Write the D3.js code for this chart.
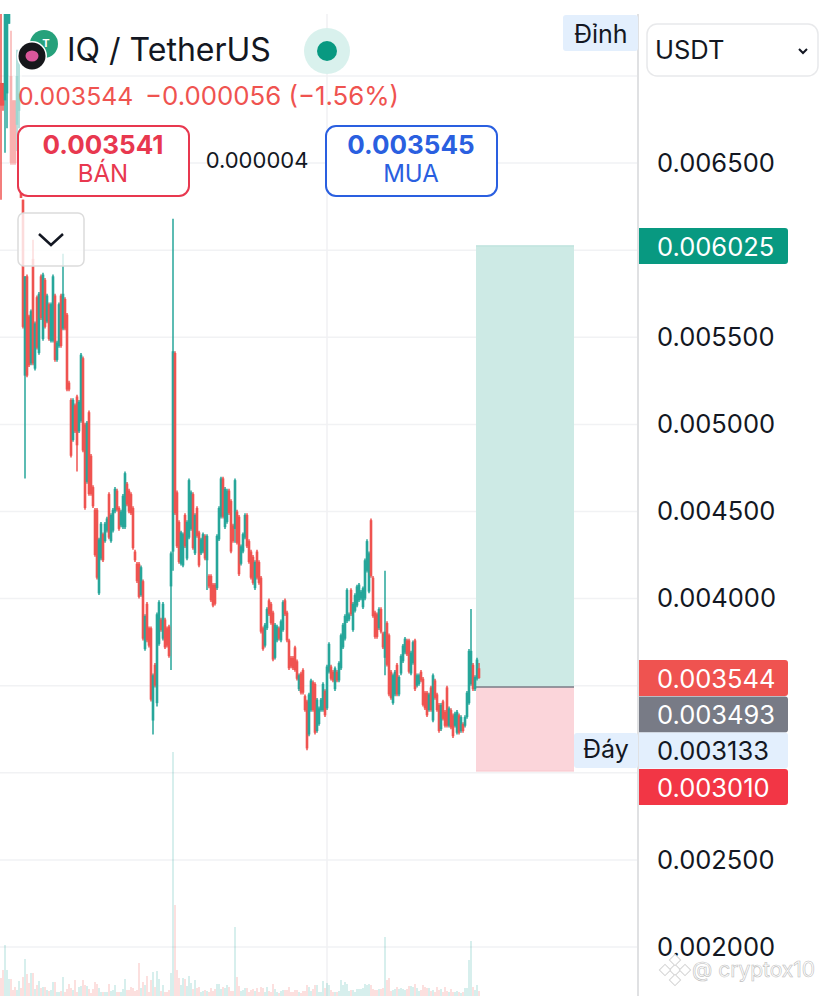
<!DOCTYPE html>
<html>
<head>
<meta charset="utf-8">
<script src="https://cdn.jsdelivr.net/npm/d3@7"></script>
<style>
body { margin: 0; background: #fff; }
svg { display: block; font-family: Inter, "Noto Sans", sans-serif; }
</style>
</head>
<body>
<script>
// prices are in millionths of a USDT, volume in arbitrary units
var opens = [6960,6960,6860,6900,7300,7000,6860,6860,6720,6800,
6400,6290,5280,5850,5620,5350,5950,5320,5730,5410,
5850,5490,5830,5590,5690,5480,5480,5740,5370,5450,
5740,5550,5720,5630,5240,5140,4910,5110,5160,4960,
5020,5380,5000,4670,5070,4820,4640,4510,4510,4030,
4230,4370,4330,4390,4600,4330,4390,4500,4620,4520,
4420,4410,4410,4660,4620,4600,4520,4270,4200,4200,
4020,4100,3710,3970,3830,3830,3300,3620,3400,3740,
3880,3770,3880,3830,3840,4070,4270,5410,4610,4440,
4200,4190,4480,4230,4350,4400,4600,4260,4520,4380,
4260,4270,4360,4220,4130,4130,4080,4080,4060,4340,
4470,4690,4410,4440,4620,4560,4420,4400,4500,4470,
4200,4270,4350,4480,4330,4270,4240,4060,4270,4210,
4120,3830,3730,3830,3990,3970,3920,3660,3760,3830,
3760,3820,3990,3920,3760,3660,3660,3720,3640,3480,
3570,3590,3440,3410,3220,3360,3520,3510,3240,3280,
3360,3360,3470,3370,3580,3610,3580,3480,3580,3530,
3600,3720,3770,3870,3880,4050,3820,3930,3960,3990,
4000,3950,4000,4160,4040,4450,4120,3920,3910,3830,
3940,3800,3660,3860,3790,3580,3400,3450,3620,3450,
3570,3640,3690,3760,3760,3570,3630,3760,3500,3510,
3580,3540,3460,3460,3360,3490,3300,3530,3450,3390,
3250,3410,3350,3490,3270,3360,3330,3270,3230,3330,
3240,3280,3270,3320,3400,3510,3620,3480,3540,3600];
var closes = [6830,6830,7360,7360,7360,6500,6500,6500,7000,6900,
6300,5560,5850,5280,5340,5650,5350,5580,5440,5750,
5610,5860,5560,5740,5490,5690,5850,5370,5470,5690,
5450,5750,5550,5200,5200,4820,5140,4960,4880,5130,
5400,4850,4520,5010,4600,4600,4530,4250,4120,4340,
4430,4220,4430,4460,4350,4480,4510,4630,4510,4400,
4500,4590,4720,4540,4500,4490,4290,4220,4100,4010,
4180,3770,3900,3760,3730,3420,3560,3500,3910,3980,
3820,3970,3720,3730,3670,4260,5420,4490,4300,4210,
4380,4370,4300,4440,4680,4610,4290,4480,4360,4190,
4340,4370,4230,4360,4070,3990,3960,3970,4360,4520,
4690,4470,4630,4620,4490,4270,4330,4680,4320,4140,
4300,4370,4480,4300,4210,4120,4090,4210,4120,4090,
3810,3710,3850,3940,3910,3860,3650,3850,3840,3770,
3870,3980,3910,3760,3600,3610,3600,3590,3540,3560,
3460,3460,3360,3140,3450,3530,3360,3230,3420,3370,
3420,3510,3330,3610,3740,3540,3530,3600,3530,3630,
3790,3850,3900,4050,3910,3910,3970,4020,4070,4080,
4040,4060,4220,4330,4260,4130,3900,3780,3780,3940,
3810,3720,3810,3620,3450,3430,3560,3580,3450,3550,
3670,3730,3770,3680,3580,3690,3750,3480,3560,3560,
3530,3390,3370,3330,3450,3360,3560,3430,3360,3240,
3390,3310,3270,3270,3370,3260,3210,3340,3350,3230,
3320,3240,3320,3460,3700,3700,3480,3550,3650,3544];
var highs = [7360,6960,7360,7360,7360,7260,6860,6860,7150,7150,
6400,6290,5850,5860,5630,5660,6060,5590,5740,5760,
5860,5870,5840,5750,5700,5700,5860,5750,5480,5700,
5750,5980,5730,5640,5250,5150,5150,5120,5170,5140,
5410,5390,5010,5020,5080,4830,4650,4520,4520,4350,
4440,4380,4440,4470,4610,4490,4520,4640,4630,4530,
4510,4600,4730,4670,4630,4610,4530,4280,4210,4210,
4190,4110,3910,3980,3840,3840,3570,3630,3920,3990,
3890,3980,3890,3840,3850,4270,6180,5420,4620,4450,
4390,4380,4490,4450,4690,4620,4610,4490,4530,4390,
4350,4380,4370,4370,4140,4140,4090,4090,4370,4530,
4700,4700,4640,4630,4630,4570,4430,4690,4510,4480,
4310,4380,4490,4490,4340,4280,4250,4220,4280,4220,
4130,3840,3860,3950,4000,3980,3930,3860,3850,3840,
3880,3990,4000,3930,3770,3670,3670,3730,3650,3570,
3580,3600,3450,3420,3460,3540,3530,3520,3430,3380,
3430,3520,3480,3620,3750,3620,3590,3610,3590,3640,
3800,3860,3910,4060,3920,4060,3980,4030,4080,4090,
4050,4070,4230,4340,4270,4460,4130,3930,3920,3950,
3950,3810,4160,3870,3800,3590,3570,3590,3630,3560,
3680,3740,3780,3770,3770,3700,3760,3770,3570,3570,
3590,3550,3470,3470,3460,3500,3570,3540,3460,3400,
3400,3420,3360,3500,3380,3370,3340,3350,3360,3340,
3330,3290,3330,3470,3710,3940,3630,3560,3660,3630];
var lows = [6290,6800,6560,6700,7300,6490,6490,6490,6570,6700,
6300,5550,4690,5270,5330,5340,5340,5310,5430,5400,
5600,5480,5550,5580,5480,5470,5470,5360,5360,5440,
5440,5540,5540,5190,5190,4810,4900,4950,4730,4950,
5010,4840,4510,4660,4590,4590,4520,4240,4110,4020,
4220,4210,4320,4380,4340,4320,4380,4490,4500,4390,
4410,4400,4400,4530,4490,4480,4280,4210,4090,4000,
4010,3760,3700,3750,3720,3410,3220,3490,3380,3730,
3810,3760,3710,3720,3660,3590,4160,4480,4290,4200,
4190,4180,4290,4220,4340,4390,4280,4250,4350,4180,
4250,4260,4220,4050,4060,3980,3950,3960,4050,4330,
4460,4460,4400,4430,4480,4260,4320,4320,4310,4130,
4190,4260,4340,4290,4200,4110,4080,4050,4110,4080,
3800,3700,3720,3820,3900,3850,3640,3650,3750,3760,
3750,3810,3900,3750,3590,3600,3590,3580,3530,3470,
3450,3450,3350,3130,3210,3350,3350,3220,3230,3270,
3350,3350,3320,3360,3570,3530,3520,3470,3520,3520,
3590,3710,3760,3860,3870,3900,3810,3920,3950,3980,
3990,3940,3990,4150,4030,4120,3890,3770,3770,3820,
3800,3710,3560,3610,3440,3420,3390,3440,3440,3440,
3560,3630,3680,3670,3570,3560,3620,3470,3490,3500,
3520,3380,3360,3320,3350,3350,3290,3420,3350,3230,
3240,3300,3260,3260,3260,3250,3200,3260,3220,3220,
3230,3230,3260,3310,3390,3500,3470,3470,3530,3540];
var volumes = [18,26,51,26,17,17,6,9,6,15,
8,19,37,22,13,23,23,7,11,15,
8,9,9,6,5,6,14,14,4,4,
5,19,4,7,12,8,6,16,4,9,
10,16,11,10,7,3,7,14,12,8,
4,4,4,4,12,5,6,11,4,4,
4,7,17,6,6,9,8,5,6,33,
8,14,11,20,4,16,24,9,25,17,
5,11,4,4,6,23,244,91,26,18,
11,18,17,10,20,13,7,16,8,9,
4,5,6,5,4,8,5,7,12,12,
7,9,8,11,9,5,5,69,19,10,
5,6,8,8,4,6,7,5,8,4,
9,8,4,9,5,4,12,7,4,3,
5,6,6,6,9,4,4,6,6,4,
3,5,5,11,9,5,7,11,11,4,
4,15,8,13,11,6,4,4,4,5,
16,11,14,12,5,6,6,4,7,7,
7,8,12,11,12,11,7,6,6,7,
7,8,59,16,18,5,6,7,9,7,
8,7,6,7,10,10,9,12,8,5,
6,11,9,8,8,5,6,4,9,6,
7,4,9,5,4,7,4,4,5,4,
3,4,8,8,36,55,9,6,11,5];

var gridPrices = [7000,6500,6000,5500,5000,4500,4000,3500,3000,2500,2000];
var axisLabels = [6500,5500,5000,4500,4000,2500,2000];
var entryPrice = 3493;
var targetPrice = 6025;
var stopPrice = 3010;
var tagPrices = [6025, 3544, 3493, 3133, 3010];
var tagFills = ["#089981", "#ef5350", "#787b86", "#e3effd", "#f23645"];
var tagTexts = ["#fff", "#fff", "#fff", "#131722", "#fff"];

function init() {
    var w = 828;
    var h = 996;
    var green = "#26a69a";
    var red = "#ef5350";
    var tagY = [246, 678, 714.5, 750.5, 787]; // tags are pushed apart, not on their price

    var fmt = function(d) { return (d / 1e6).toFixed(6); };

    var svg = d3.select("body")
        .append("svg")
        .attr("width", w)
        .attr("height", h);

    var xScale = d3.scaleLinear().domain([0, closes.length - 1]).range([1, 479]);
    var yScale = d3.scaleLinear().domain([2000, 7000]).range([947, 76]);
    var volScale = d3.scaleLinear().domain([0, 244]).range([996, 752]);

    svg.append("defs").append("clipPath").attr("id", "plot")
        .append("rect").attr("x", 0).attr("y", 14).attr("width", 638).attr("height", h - 14);

    // grid
    svg.selectAll(".hgrid").data(gridPrices).enter().append("line")
        .attr("x1", 0).attr("x2", 638)
        .attr("y1", function(d) { return yScale(d); })
        .attr("y2", function(d) { return yScale(d); })
        .attr("stroke", "#f1f2f4").attr("stroke-width", 1.5);
    svg.append("line")
        .attr("x1", 327).attr("x2", 327).attr("y1", 14).attr("y2", h)
        .attr("stroke", "#f0f1f3").attr("stroke-width", 1.5);

    // long position box
    svg.append("rect")
        .attr("x", 476).attr("width", 98)
        .attr("y", yScale(targetPrice))
        .attr("height", yScale(entryPrice) - yScale(targetPrice))
        .attr("fill", "#cdeae5");
    svg.append("rect")
        .attr("x", 476).attr("width", 98)
        .attr("y", yScale(entryPrice))
        .attr("height", yScale(stopPrice) - yScale(entryPrice))
        .attr("fill", "#fbd5da");
    svg.append("line")
        .attr("x1", 476).attr("x2", 574)
        .attr("y1", yScale(targetPrice)).attr("y2", yScale(targetPrice))
        .attr("stroke", "#b4ded7").attr("stroke-width", 1);
    svg.append("line")
        .attr("x1", 476).attr("x2", 574)
        .attr("y1", yScale(stopPrice)).attr("y2", yScale(stopPrice))
        .attr("stroke", "#f8c6cc").attr("stroke-width", 1);
    svg.append("line")
        .attr("x1", 476).attr("x2", 574)
        .attr("y1", yScale(entryPrice)).attr("y2", yScale(entryPrice))
        .attr("stroke", "#787b86").attr("stroke-width", 1.5);

    var plot = svg.append("g").attr("clip-path", "url(#plot)");
    var idx = d3.range(closes.length);
    var col = function(i) { return closes[i] >= opens[i] ? green : red; };

    // volume
    plot.selectAll(".vol").data(idx).enter().append("rect")
        .attr("x", function(i) { return xScale(i) - 0.6; })
        .attr("width", 1.2)
        .attr("y", function(i) { return volScale(volumes[i]); })
        .attr("height", function(i) { return volScale(0) - volScale(volumes[i]); })
        .attr("fill", col)
        .attr("opacity", 0.3);

    // wicks
    plot.selectAll(".wick").data(idx).enter().append("line")
        .attr("x1", function(i) { return xScale(i); })
        .attr("x2", function(i) { return xScale(i); })
        .attr("y1", function(i) { return yScale(highs[i]); })
        .attr("y2", function(i) { return yScale(lows[i]); })
        .attr("stroke", col)
        .attr("stroke-width", 1.5);

    // bodies
    plot.selectAll(".body").data(idx).enter().append("rect")
        .attr("x", function(i) { return xScale(i) - 1.3; })
        .attr("width", 2.6)
        .attr("y", function(i) { return yScale(Math.max(opens[i], closes[i])); })
        .attr("height", function(i) { return Math.abs(yScale(opens[i]) - yScale(closes[i])); })
        .attr("fill", col);

    // faded candles under the legend
    svg.append("rect").attr("x", 9).attr("y", 28).attr("width", 13).attr("height", 142)
        .attr("fill", "#fff").attr("opacity", 0.55);

    // price axis
    svg.append("line")
        .attr("x1", 638).attr("x2", 638).attr("y1", 14).attr("y2", h)
        .attr("stroke", "#e0e1e3").attr("stroke-width", 2);

    var yAxis = d3.axisRight(yScale)
        .tickValues(axisLabels)
        .tickSize(0)
        .tickPadding(0)
        .tickFormat(fmt);
    var axisG = svg.append("g")
        .attr("transform", "translate(657, 0)")
        .call(yAxis);
    axisG.select(".domain").remove();
    axisG.selectAll("text")
        .attr("font-family", "Inter, sans-serif")
        .attr("font-size", 25.5)
        .attr("fill", "#131722");

    // price tags
    var tags = svg.selectAll(".tag").data(tagPrices).enter().append("g");
    tags.append("path")
        .attr("d", function(d, i) {
            var y = tagY[i];
            return "M639," + (y - 18) + "H785a3,3 0 0 1 3,3V" + (y + 15) + "a3,3 0 0 1 -3,3H639Z";
        })
        .attr("fill", function(d, i) { return tagFills[i]; });
    tags.append("text")
        .attr("x", 657)
        .attr("y", function(d, i) { return tagY[i] + 9.5; })
        .attr("font-size", 25.5)
        .attr("fill", function(d, i) { return tagTexts[i]; })
        .text(fmt);

    // high / low labels
    svg.append("rect").attr("x", 563).attr("y", 15).attr("width", 75).attr("height", 36).attr("rx", 3).attr("fill", "#e3effd");
    svg.append("text").attr("x", 574).attr("y", 43).attr("font-size", 25).attr("fill", "#131722").text("Đỉnh");
    svg.append("rect").attr("x", 574).attr("y", 733).attr("width", 64).attr("height", 35).attr("rx", 3).attr("fill", "#e3effd");
    svg.append("text").attr("x", 583).attr("y", 758).attr("font-size", 25).attr("fill", "#131722").text("Đáy");

    // currency select
    svg.append("rect").attr("x", 647).attr("y", 24).attr("width", 171).attr("height", 52).attr("rx", 10)
        .attr("fill", "#fff").attr("stroke", "#e8e9eb").attr("stroke-width", 1.5);
    svg.append("text").attr("x", 655).attr("y", 59).attr("font-size", 25.5).attr("fill", "#131722").text("USDT");
    svg.append("path").attr("d", "M799,49l4,4l4,-4").attr("fill", "none").attr("stroke", "#131722").attr("stroke-width", 2);

    // symbol icons
    svg.append("circle").attr("cx", 44).attr("cy", 44).attr("r", 14).attr("fill", "#26a17b");
    svg.append("text").attr("x", 46).attr("y", 47).attr("text-anchor", "middle").attr("font-size", 11).attr("font-weight", 700).attr("fill", "#fff").text("T");
    svg.append("circle").attr("cx", 32).attr("cy", 56).attr("r", 15).attr("fill", "#fff");
    svg.append("circle").attr("cx", 32).attr("cy", 56).attr("r", 13.5).attr("fill", "#16171b");
    svg.append("ellipse").attr("cx", 32).attr("cy", 56).attr("rx", 6.5).attr("ry", 5.5).attr("fill", "#d9579a");

    svg.append("text").attr("x", 67).attr("y", 61).attr("font-size", 32).attr("fill", "#131722").text("IQ / TetherUS");

    // market status
    svg.append("circle").attr("cx", 327).attr("cy", 51).attr("r", 23).attr("fill", "#d9f1ed");
    svg.append("circle").attr("cx", 327).attr("cy", 51).attr("r", 10).attr("fill", "#089981");

    // last change line
    svg.append("text").attr("x", 18).attr("y", 105).attr("font-size", 24.8).attr("fill", "#ef5350")
        .text(fmt(3544));
    svg.append("text").attr("x", 145).attr("y", 105).attr("font-size", 25.8).attr("fill", "#ef5350")
        .text("\u22120.000056 (\u22121.56%)");

    // sell / buy boxes
    svg.append("rect").attr("x", 18).attr("y", 126).attr("width", 171).attr("height", 70).attr("rx", 10)
        .attr("fill", "#fff").attr("stroke", "#e8384f").attr("stroke-width", 2);
    svg.append("text").attr("x", 103).attr("y", 154).attr("text-anchor", "middle").attr("font-size", 26).attr("font-weight", 700).attr("fill", "#e8384f").text("0.003541");
    svg.append("text").attr("x", 103).attr("y", 182).attr("text-anchor", "middle").attr("font-size", 24).attr("fill", "#e8384f").text("BÁN");
    svg.append("text").attr("x", 257).attr("y", 168).attr("text-anchor", "middle").attr("font-size", 22).attr("fill", "#131722").text("0.000004");
    svg.append("rect").attr("x", 326).attr("y", 126).attr("width", 171).attr("height", 70).attr("rx", 10)
        .attr("fill", "#fff").attr("stroke", "#2a5fe0").attr("stroke-width", 2);
    svg.append("text").attr("x", 411).attr("y", 154).attr("text-anchor", "middle").attr("font-size", 26).attr("font-weight", 700).attr("fill", "#2a5fe0").text("0.003545");
    svg.append("text").attr("x", 411).attr("y", 182).attr("text-anchor", "middle").attr("font-size", 24).attr("fill", "#2a5fe0").text("MUA");

    // collapse button
    svg.append("rect").attr("x", 18).attr("y", 213).attr("width", 66).attr("height", 53).attr("rx", 6)
        .attr("fill", "#fff").attr("fill-opacity", 0.8).attr("stroke", "#dcdcdc").attr("stroke-width", 1.5);
    svg.append("path").attr("d", "M39,234l12,11l12,-11").attr("fill", "none").attr("stroke", "#131722").attr("stroke-width", 2.5);

    // watermark
    var logo = svg.append("g").attr("transform", "translate(675, 970)")
        .attr("fill", "#fff").attr("stroke", "#d4d4d4").attr("stroke-width", 1);
    logo.append("rect").attr("x", -4).attr("y", -4).attr("width", 8).attr("height", 8).attr("transform", "rotate(45)");
    logo.append("rect").attr("x", -4).attr("y", -4).attr("width", 8).attr("height", 8).attr("transform", "translate(-10,0) rotate(45)");
    logo.append("rect").attr("x", -4).attr("y", -4).attr("width", 8).attr("height", 8).attr("transform", "translate(10,0) rotate(45)");
    logo.append("rect").attr("x", -4).attr("y", -4).attr("width", 8).attr("height", 8).attr("transform", "translate(0,-10) rotate(45)");
    logo.append("rect").attr("x", -4).attr("y", -4).attr("width", 8).attr("height", 8).attr("transform", "translate(0,10) rotate(45)");
    svg.append("text").attr("x", 692).attr("y", 977).attr("font-size", 21)
        .attr("fill", "#fff").attr("stroke", "#bdbdbd").attr("stroke-width", 0.6)
        .text("@ cryptox10");
}

window.onload = init;
</script>
</body>
</html>
